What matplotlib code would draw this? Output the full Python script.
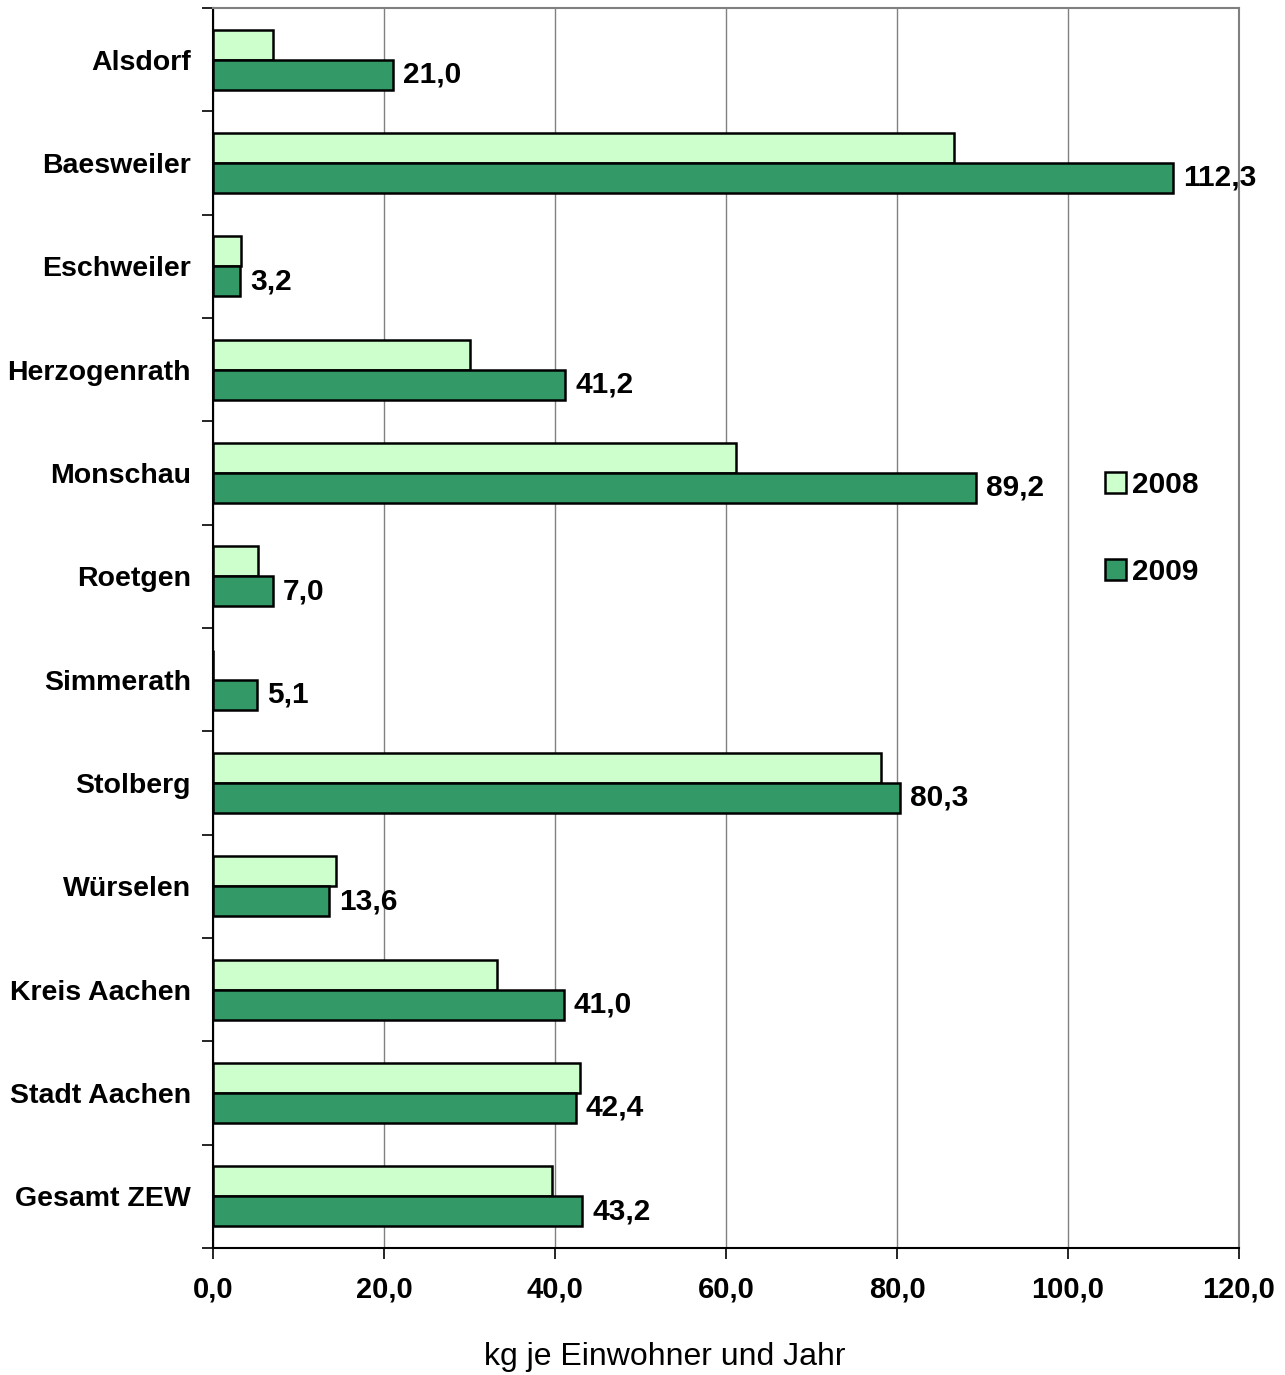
import matplotlib.pyplot as plt
import numpy as np

plt.rcParams['font.family'] = ['Liberation Sans', 'DejaVu Sans']

orte = ["Alsdorf", "Baesweiler", "Eschweiler", "Herzogenrath", "Monschau", "Roetgen",
        "Simmerath", "Stolberg", "Würselen", "Kreis Aachen", "Stadt Aachen", "Gesamt ZEW"]
werte_2008 = [7.0, 86.7, 3.3, 30.1, 61.2, 5.3, 0.0, 78.1, 14.4, 33.2, 42.9, 39.6]
werte_2009 = [21.0, 112.3, 3.2, 41.2, 89.2, 7.0, 5.1, 80.3, 13.6, 41.0, 42.4, 43.2]
x_ticks = [0, 20, 40, 60, 80, 100, 120]

fig = plt.figure(figsize=(12.85, 13.75), dpi=100)
ax = fig.add_axes([0.1658, 0.0924, 0.7984, 0.9018])

y = np.arange(len(orte))
h = 0.29
ax.barh(y - h / 2, werte_2008, height=h, color="#CCFFCC", edgecolor="black", linewidth=1.8, label="2008", zorder=3)
ax.barh(y + h / 2, werte_2009, height=h, color="#339966", edgecolor="black", linewidth=1.8, label="2009", zorder=3)

for yi, v in zip(y, werte_2009):
    ax.text(v + 1.2, yi + h / 2, "{:.1f}".format(v).replace(".", ","), va="center", ha="left",
            fontsize=21.5, fontweight="bold", zorder=4)

ax.set_xlim(0, 120)
ax.set_ylim(len(orte) - 0.5, -0.5)
ax.set_xticks(x_ticks)
ax.set_xticklabels(["{:.1f}".format(t).replace(".", ",") for t in x_ticks], fontsize=21, fontweight="bold")
ax.set_yticks(y)
ax.set_yticklabels(orte, fontsize=20.5, fontweight="bold")
ax.tick_params(axis="y", length=0, pad=16)
ax.set_yticks(np.arange(len(orte) + 1) - 0.5, minor=True)
ax.tick_params(axis="y", which="minor", length=8, width=1.2, direction="out")
ax.tick_params(axis="x", length=8, width=1.2, direction="out", pad=12)

ax.grid(axis="x", color="#808080", linewidth=1.0, zorder=0)
for s in ["top", "right"]:
    ax.spines[s].set_color("#808080")
    ax.spines[s].set_linewidth(1.5)
for s in ["left", "bottom"]:
    ax.spines[s].set_color("black")
    ax.spines[s].set_linewidth(1.5)

fig.text(665 / 1285, 1 - 1357 / 1375, "kg je Einwohner und Jahr", fontsize=23, ha="center", va="center")

leg = ax.legend(loc="upper left", bbox_to_anchor=(0.843, 0.648), frameon=False,
                prop={"weight": "bold", "size": 21.5}, handlelength=0.7, handleheight=0.7,
                handletextpad=0.2, labelspacing=1.95)

fig.savefig("out.png", dpi=100)
